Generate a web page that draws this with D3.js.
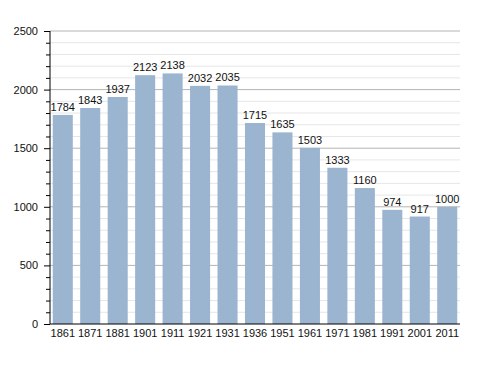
<!DOCTYPE html>
<html>
<head>
<meta charset="utf-8">
<script src="https://cdn.jsdelivr.net/npm/d3@7"></script>
<style>
  body { margin: 0; background: #fff; }
  text { font-family: "Liberation Sans", Arial, sans-serif; }
</style>
</head>
<body>
<div id="chart"></div>
<script>
// census years and population
const years = ["1861", "1871", "1881", "1901", "1911", "1921", "1931", "1936", "1951", "1961", "1971", "1981", "1991", "2001", "2011"];
const population = [1784, 1843, 1937, 2123, 2138, 2032, 2035, 1715, 1635, 1503, 1333, 1160, 974, 917, 1000];
const yTicks = [0, 500, 1000, 1500, 2000, 2500];

const W = 488, H = 373;
const margin = {top: 31, right: 28, bottom: 49, left: 50};
const width = W - margin.left - margin.right,
    height = H - margin.top - margin.bottom;

const svg = d3.select("#chart")
    .append("svg")
    .attr("width", W)
    .attr("height", H)
    .append("g")
    .attr("transform", `translate(${margin.left}, ${margin.top})`);

const x = d3.scaleBand()
    .domain(years)
    .range([0, width])
    .paddingInner(0.27)
    .paddingOuter(0.1);

const y = d3.scaleLinear()
    .domain([0, 2500])
    .range([height, 0]);

// minor grid (every 100)
const minor = d3.range(100, 2500, 100).filter(v => v % 500 !== 0);
svg.append("g")
    .selectAll("line")
    .data(minor)
    .join("line")
    .attr("x1", 0).attr("x2", width)
    .attr("y1", d => y(d)).attr("y2", d => y(d))
    .attr("stroke", "#e6e6e6")
    .attr("stroke-width", 1);

// major grid
svg.append("g")
    .selectAll("line")
    .data(yTicks.slice(1))
    .join("line")
    .attr("x1", 0).attr("x2", width)
    .attr("y1", d => y(d)).attr("y2", d => y(d))
    .attr("stroke", "#b4b4b4")
    .attr("stroke-width", 1);

// bars
svg.selectAll("rect.bar")
    .data(population)
    .join("rect")
    .attr("class", "bar")
    .attr("x", (d, i) => x(years[i]))
    .attr("y", d => y(d))
    .attr("width", x.bandwidth())
    .attr("height", d => height - y(d))
    .attr("fill", "#9bb4cf");

// value labels
svg.selectAll("text.val")
    .data(population)
    .join("text")
    .attr("class", "val")
    .attr("x", (d, i) => x(years[i]) + x.bandwidth() / 2)
    .attr("y", d => y(d) - 4)
    .attr("text-anchor", "middle")
    .attr("font-size", 11)
    .attr("fill", "#111")
    .text(d => d);

// y axis with minor ticks
const yAxisMinor = svg.append("g")
    .call(d3.axisLeft(y).tickValues(minor).tickSize(4).tickFormat(""));
yAxisMinor.select(".domain").remove();

const yAxis = svg.append("g")
    .call(d3.axisLeft(y).tickValues(yTicks).tickSize(6).tickPadding(6).tickFormat(d3.format("d")));
yAxis.selectAll("text").attr("font-size", 11).attr("fill", "#111");
yAxis.select(".domain").attr("d", `M0,${height}V0`);

// x axis
const xAxis = svg.append("g")
    .attr("transform", `translate(0, ${height})`)
    .call(d3.axisBottom(x).tickSize(0).tickPadding(5));
xAxis.selectAll("text").attr("font-size", 11).attr("fill", "#111");
xAxis.select(".domain").attr("d", `M0,0H${width}`);
</script>
</body>
</html>
